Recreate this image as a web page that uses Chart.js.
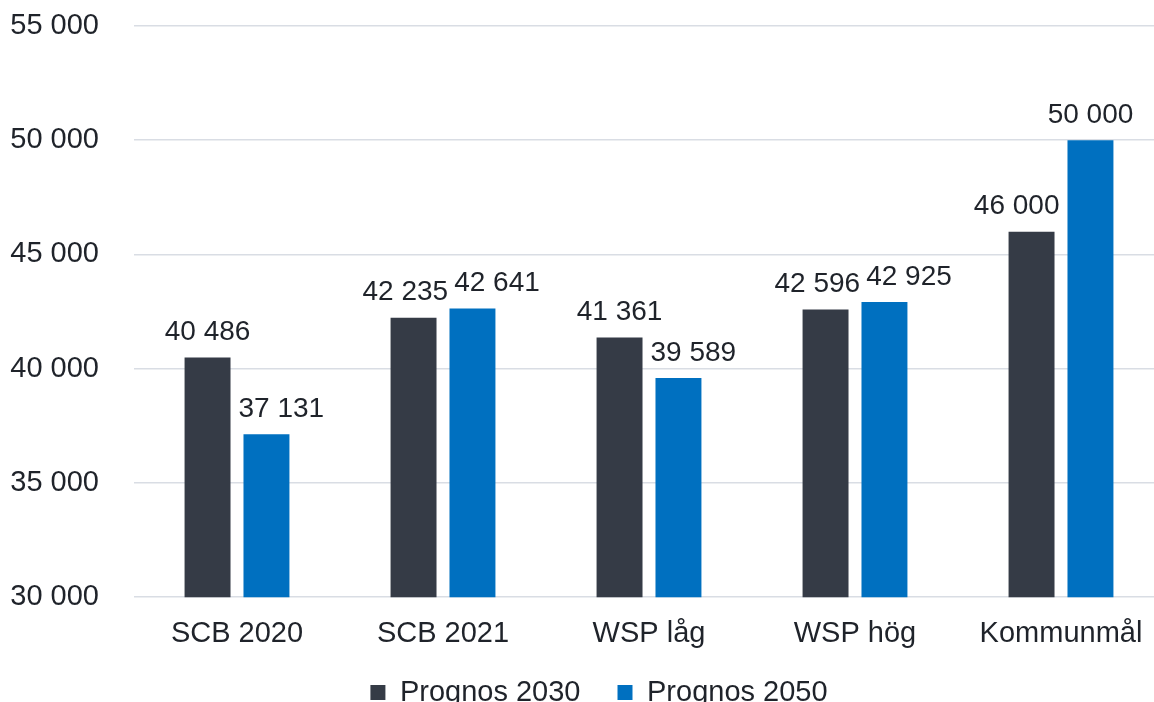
<!DOCTYPE html>
<html>
<head>
<meta charset="utf-8">
<script src="https://cdn.jsdelivr.net/npm/chart.js@4/dist/chart.umd.min.js"></script>
<style>
  html, body { margin: 0; padding: 0; background: #fff; overflow: hidden; }
  #wrap { width: 1154px; height: 702px; overflow: hidden; position: relative; }
  #box { width: 1200px; height: 746px; position: absolute; left: 0; top: 0; }
</style>
</head>
<body>
<div id="wrap"><div id="box"><canvas id="c"></canvas></div></div>
<script>
const categories = ['SCB 2020', 'SCB 2021', 'WSP låg', 'WSP hög', 'Kommunmål'];
const prognos2030 = [40486, 42235, 41361, 42596, 46000];
const prognos2050 = [37131, 42641, 39589, 42925, 50000];
const seriesNames = ['Prognos 2030', 'Prognos 2050'];
const yMin = 30000, yMax = 55000, yStep = 5000;

const FONT = "'Liberation Sans', Arial, sans-serif";
const TEXT = '#1f232a';
const fmt = v => String(v).replace(/\B(?=(\d{3})+(?!\d))/g, ' ');

const legendShift = {
  id: 'legendShift',
  afterLayout(chart) {
    const lg = chart.legend;
    if (!lg) return;
    lg.left += 17; lg.right += 17;
    lg.top -= 29; lg.bottom -= 29;
  }
};

const valueLabels = {
  id: 'valueLabels',
  afterDatasetsDraw(chart) {
    const ctx = chart.ctx;
    ctx.save();
    ctx.font = '28px ' + FONT;
    ctx.fillStyle = TEXT;
    ctx.textAlign = 'center';
    ctx.textBaseline = 'middle';
    const metas = chart.data.datasets.map((d, i) => chart.getDatasetMeta(i));
    const n = chart.data.labels.length;
    const gap = 8, half = 12;
    for (let k = 0; k < n; k++) {
      const items = metas.map((m, di) => {
        const bar = m.data[k];
        const v = chart.data.datasets[di].data[k];
        const t = fmt(v);
        const w = ctx.measureText(t).width;
        return { bar, t, w, x: bar.x, y: bar.y - 25 };
      });
      items.forEach((it, i) => {
        items.forEach((o, j) => {
          if (i === j) return;
          const b = o.bar;
          const bl = b.x - b.width / 2, br = b.x + b.width / 2;
          const lb = it.y + half;
          if (lb > b.y && it.x - it.w / 2 < br && it.x + it.w / 2 > bl) {
            if (j < i) it.x = br + gap + it.w / 2;
            else it.x = bl - gap - it.w / 2;
          }
        });
      });
      for (let i = 0; i + 1 < items.length; i++) {
        const a = items[i], b = items[i + 1];
        const need = (a.w + b.w) / 2 + 6;
        const vOverlap = Math.abs(a.y - b.y) < 2 * half;
        if (vOverlap && b.x - a.x < need) {
          const d = need - (b.x - a.x);
          a.x -= d * 0.25;
          b.x += d * 0.75;
        }
      }
      items.forEach(it => ctx.fillText(it.t, it.x, it.y));
    }
    ctx.restore();
  }
};

new Chart(document.getElementById('c'), {
  type: 'bar',
  data: {
    labels: categories,
    datasets: [
      { label: seriesNames[0], data: prognos2030, backgroundColor: '#353b46', categoryPercentage: 0.572, barPercentage: 0.78 },
      { label: seriesNames[1], data: prognos2050, backgroundColor: '#0070c0', categoryPercentage: 0.572, barPercentage: 0.78 }
    ]
  },
  options: {
    responsive: true,
    maintainAspectRatio: false,
    animation: false,
    layout: { padding: { left: 0, right: 36, top: 26, bottom: 0 } },
    plugins: {
      tooltip: { enabled: false },
      legend: {
        position: 'bottom',
        labels: {
          boxWidth: 15, boxHeight: 15, padding: 37,
          color: TEXT,
          font: { family: FONT, size: 29 }
        }
      }
    },
    scales: {
      x: {
        grid: { display: false, drawTicks: false },
        border: { display: false },
        ticks: { color: TEXT, font: { family: FONT, size: 29 }, padding: 19, maxRotation: 0 }
      },
      y: {
        min: yMin, max: yMax,
        grid: { color: '#d9dde4', lineWidth: 1.5, drawTicks: false },
        border: { display: false },
        ticks: { stepSize: yStep, color: TEXT, font: { family: FONT, size: 29 }, padding: 35, callback: v => fmt(v) },
        afterFit(s) { s.width = 134; s.paddingTop = 0; s.paddingBottom = 0; }
      }
    }
  },
  plugins: [legendShift, valueLabels]
});
</script>
</body>
</html>
